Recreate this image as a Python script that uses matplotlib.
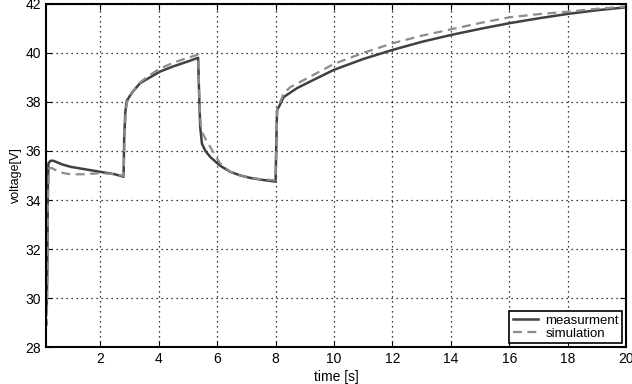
import matplotlib
matplotlib.use('Agg')
import matplotlib.pyplot as plt
import numpy as np

plt.rcParams['font.family'] = ['Liberation Sans', 'DejaVu Sans']

t_meas = [0.15, 0.17, 0.19, 0.21, 0.23, 0.3, 0.4, 0.7, 1.0, 1.5, 2.0, 2.5, 2.8,
          2.82, 2.86, 2.91, 3.1, 3.37, 3.7, 4.05, 4.5, 5.0, 5.35,
          5.38, 5.42, 5.48, 5.6, 5.77, 6.1, 6.45, 6.8, 7.14, 7.5, 8.0,
          8.02, 8.05, 8.28, 8.73, 9.3, 10, 11, 12, 13, 14, 15, 16, 17, 18, 19, 20]
v_meas = [30.0, 29.5, 31.0, 34.5, 35.5, 35.6, 35.6, 35.45, 35.35, 35.25, 35.15, 35.05, 34.95,
          36.5, 37.6, 38.05, 38.4, 38.77, 39.0, 39.24, 39.45, 39.65, 39.8,
          38.5, 37.0, 36.3, 36.0, 35.75, 35.4, 35.15, 35.0, 34.9, 34.83, 34.75,
          36.0, 37.65, 38.2, 38.56, 38.9, 39.31, 39.75, 40.12, 40.45, 40.73, 40.98,
          41.21, 41.41, 41.59, 41.74, 41.86]

# simulated voltage
t_sim = [0.15, 0.17, 0.19, 0.21, 0.25, 0.35, 0.5, 0.73, 1.0, 1.5, 2.0, 2.5, 2.8,
         2.83, 2.87, 2.92, 3.1, 3.37, 3.7, 4.05, 4.5, 5.0, 5.35,
         5.38, 5.42, 5.47, 5.6, 5.77, 6.1, 6.45, 6.8, 7.14, 7.5, 8.0,
         8.02, 8.06, 8.28, 8.5, 8.85, 10, 11, 12, 13, 14, 15, 16, 17, 18, 19, 20]
v_sim = [30.2, 28.9, 31.0, 34.0, 35.3, 35.3, 35.2, 35.1, 35.05, 35.05, 35.1, 35.05, 34.98,
         36.5, 37.6, 38.0, 38.4, 38.8, 39.1, 39.36, 39.6, 39.8, 39.93,
         38.5, 37.3, 36.8, 36.5, 36.15, 35.5, 35.15, 35.0, 34.9, 34.85, 34.8,
         36.0, 37.7, 38.35, 38.6, 38.82, 39.55, 40.0, 40.39, 40.7, 40.96, 41.22,
         41.45, 41.58, 41.68, 41.8, 41.89]

fig = plt.figure(figsize=(6.32, 3.84), dpi=100)
ax = fig.add_axes([0.073, 0.096, 0.918, 0.894])

ax.plot(t_meas, v_meas, color='#404040', lw=1.8, label='measurment')
ax.plot(t_sim, v_sim, color='#8c8c8c', lw=1.6, ls=(0, (4, 2.5)), label='simulation')

ax.set_xlim(0.15, 20)
ax.set_ylim(28, 42)
ax.set_xticks(np.arange(2, 21, 2))
ax.set_yticks(np.arange(28, 43, 2))
ax.grid(True, color='black', ls=(0, (1, 3)), lw=0.9)
ax.tick_params(direction='in', top=True, right=True, labelsize=10, length=4)
for s in ax.spines.values():
    s.set_linewidth(1.5)

ax.set_xlabel('time [s]', fontsize=10, labelpad=3)
ax.set_ylabel('voltage[V]', fontsize=9, labelpad=3)

leg = ax.legend(loc='lower right', fontsize=9.5, fancybox=False, framealpha=1,
                edgecolor='black', borderaxespad=0.3, handlelength=1.9,
                handletextpad=0.6, borderpad=0.25, labelspacing=0.05)
leg.get_frame().set_linewidth(1.2)

fig.savefig('out.png', dpi=100)
